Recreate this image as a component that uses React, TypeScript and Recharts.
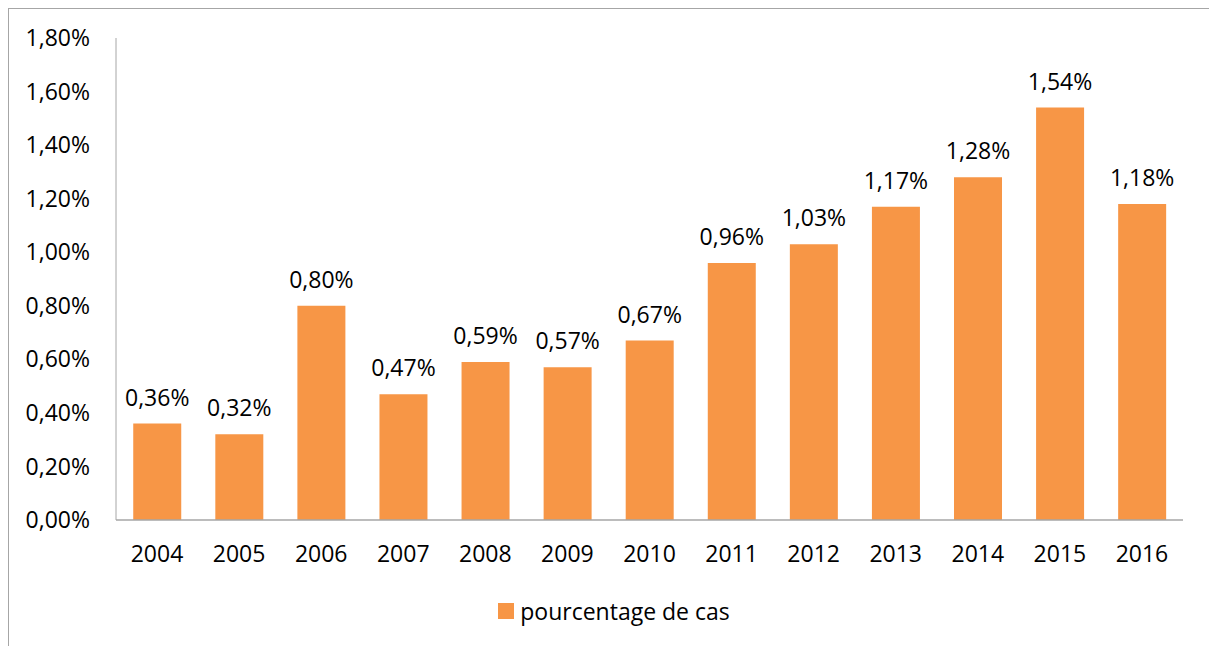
import React from 'react';
import { BarChart, Bar, XAxis, YAxis, Legend, LabelList } from 'recharts';

const years = ['2004', '2005', '2006', '2007', '2008', '2009', '2010', '2011', '2012', '2013', '2014', '2015', '2016'];
const pourcentage = [0.36, 0.32, 0.80, 0.47, 0.59, 0.57, 0.67, 0.96, 1.03, 1.17, 1.28, 1.54, 1.18];
const yTicks = [0, 0.2, 0.4, 0.6, 0.8, 1.0, 1.2, 1.4, 1.6, 1.8];
const seriesName = 'pourcentage de cas';

const data = years.map((y, i) => ({ year: y, value: pourcentage[i] }));

const FONT = '"Open Sans", sans-serif';
const FS = 23;
const ORANGE = '#F79646';
const AXIS = '#A6A6A6';

const fmt = (v: number) => v.toFixed(2).replace('.', ',') + '%';

const LegendContent = () => (
  <div style={{ width: '100%', textAlign: 'center', paddingTop: 27, paddingLeft: 36, boxSizing: 'border-box', fontFamily: FONT, fontSize: FS, color: '#000', lineHeight: '30px' }}>
    <span style={{ display: 'inline-flex', alignItems: 'center' }}>
      <span style={{ display: 'inline-block', width: 16, height: 16, background: ORANGE, marginRight: 6 }} />
      <span>{seriesName}</span>
    </span>
  </div>
);

export default function App() {
  return (
    <div style={{ position: 'fixed', left: 8, top: 8, width: 1215, height: 650, borderLeft: `1px solid ${AXIS}`, borderTop: `1px solid ${AXIS}`, background: '#fff' }}>
      <BarChart width={1200} height={629} data={data} margin={{ top: 29, right: 26, left: 0, bottom: 0 }} barCategoryGap="21%">
        <XAxis
          dataKey="year"
          height={48}
          tickLine={false}
          tickSize={0}
          tickMargin={26}
          axisLine={{ stroke: AXIS, strokeWidth: 1.5 }}
          tick={{ fill: '#000', fontSize: FS, fontFamily: FONT }}
          interval={0}
        />
        <YAxis
          width={107}
          domain={[0, 1.8]}
          ticks={yTicks}
          tickFormatter={fmt}
          tickLine={false}
          tickSize={0}
          tickMargin={26}
          axisLine={{ stroke: AXIS, strokeWidth: 1 }}
          tick={{ fill: '#000', fontSize: FS, fontFamily: FONT }}
          interval={0}
        />
        <Legend verticalAlign="bottom" height={70} content={<LegendContent />} wrapperStyle={{ height: 70 }} />
        <Bar dataKey="value" name={seriesName} fill={ORANGE} isAnimationActive={false}>
          <LabelList dataKey="value" position="top" offset={18} formatter={(v: number) => fmt(v)} style={{ fill: '#000', fontSize: FS, fontFamily: FONT }} />
        </Bar>
      </BarChart>
    </div>
  );
}
